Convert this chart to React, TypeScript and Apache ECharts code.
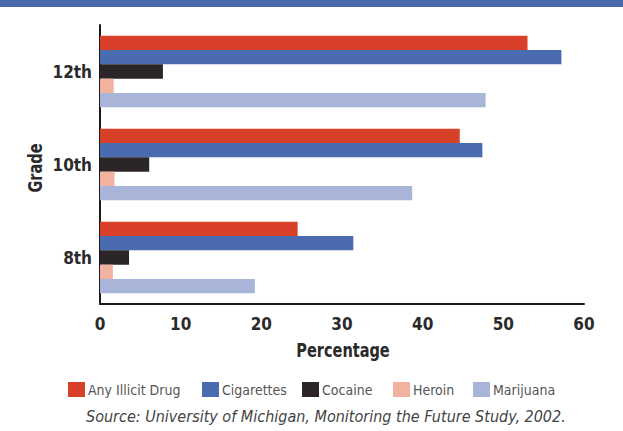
import React, { useEffect, useRef } from "react";
import * as echarts from "echarts";

const grades = ["12th", "10th", "8th"];
const anyIllicitDrug = [53.0, 44.6, 24.5];
const cigarettes = [57.2, 47.4, 31.4];
const cocaine = [7.8, 6.1, 3.6];
const heroin = [1.7, 1.8, 1.6];
const marijuana = [47.8, 38.7, 19.2];
const xTicks = [0, 10, 20, 30, 40, 50, 60];

const seriesNames = ["Any Illicit Drug", "Cigarettes", "Cocaine", "Heroin", "Marijuana"];
const seriesColors = ["#d9402a", "#4a6baf", "#2b2527", "#f2b2a0", "#a9b4d9"];
const seriesData = [anyIllicitDrug, cigarettes, cocaine, heroin, marijuana];
const legendLefts = [68, 202, 302, 393, 473];

const NARROW = '"Liberation Sans Narrow", "DejaVu Sans Condensed", "Roboto Condensed", "Liberation Sans", sans-serif';

export default function App() {
  const ref = useRef<HTMLDivElement>(null);
  useEffect(() => {
    if (!ref.current) return;
    const chart = echarts.init(ref.current, null, { renderer: "svg" });
    chart.setOption({
      animation: false,
      backgroundColor: "#ffffff",
      grid: { left: 100, right: 39, top: 25, bottom: 127, containLabel: false },
      legend: seriesNames.map((name, i) => ({
        left: legendLefts[i],
        top: 382,
        padding: 0,
        itemWidth: 17,
        itemHeight: 15,
        itemGap: 0,
        icon: "rect",
        textStyle: { fontFamily: NARROW, fontSize: 14, color: "#555555", padding: [0, 0, 0, -2] },
        data: [name],
      })),
      xAxis: {
        type: "value",
        min: 0,
        max: 60,
        interval: 10,
        axisLine: { show: true, lineStyle: { color: "#1a1a1a", width: 2 } },
        axisTick: { show: false },
        splitLine: { show: false },
        axisLabel: {
          margin: 11,
          fontFamily: NARROW,
          fontWeight: "bold",
          fontSize: 17,
          color: "#2a2a2a",
          formatter: (v: number) => (xTicks.includes(v) ? String(v) : ""),
        },
      },
      yAxis: {
        type: "category",
        inverse: true,
        data: grades,
        axisLine: { show: true, lineStyle: { color: "#1a1a1a", width: 2 } },
        axisTick: { show: false },
        axisLabel: {
          margin: 8,
          fontFamily: NARROW,
          fontWeight: "bold",
          fontSize: 17,
          color: "#2a2a2a",
        },
      },
      graphic: [
        { type: "rect", shape: { x: 0, y: 0, width: 623, height: 7 }, style: { fill: "#4a6aad" } },
        {
          type: "text",
          x: 36,
          y: 168,
          rotation: Math.PI / 2,
          scaleX: 0.85,
          style: {
            text: "Grade",
            align: "center",
            verticalAlign: "middle",
            fontFamily: NARROW,
            fontWeight: "bold",
            fontSize: 19,
            fill: "#2a2a2a",
          },
        },
        {
          type: "text",
          x: 343,
          y: 351,
          scaleX: 0.85,
          style: {
            text: "Percentage",
            align: "center",
            verticalAlign: "middle",
            fontFamily: NARROW,
            fontWeight: "bold",
            fontSize: 19,
            fill: "#2a2a2a",
          },
        },
        {
          type: "text",
          x: 86,
          y: 416,
          style: {
            text: "Source: University of Michigan, Monitoring the Future Study, 2002.",
            align: "left",
            verticalAlign: "middle",
            fontFamily: NARROW,
            fontStyle: "italic",
            fontSize: 16,
            fill: "#444444",
          },
        },
      ],
      series: seriesNames.map((name, i) => ({
        name,
        type: "bar",
        data: seriesData[i],
        barGap: "0%",
        barCategoryGap: "23%",
        itemStyle: { color: seriesColors[i] },
      })),
    });
    return () => chart.dispose();
  }, []);
  return (
    <div
      ref={ref}
      style={{ position: "absolute", left: 0, top: 0, width: 623, height: 431 }}
    />
  );
}
